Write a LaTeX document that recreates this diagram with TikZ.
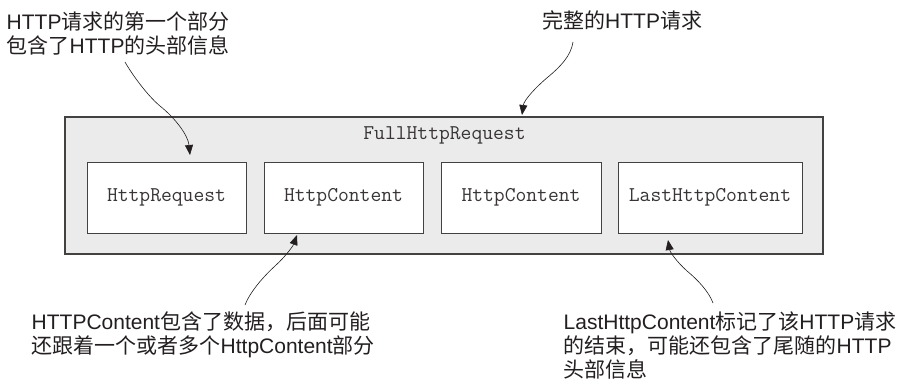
\documentclass[tikz,border=0pt]{standalone}
\usepackage{fontspec}
\setmainfont{Liberation Sans}
\newfontfamily\cjk{Noto Sans CJK SC}
\usetikzlibrary{arrows.meta}
\definecolor{ink}{HTML}{231F20}
\definecolor{panel}{HTML}{EBEBEB}
\begin{document}
\begin{tikzpicture}[x=1pt,y=-1pt,
  codefont/.style={font=\ttfamily\fontsize{21}{23}\selectfont, text=ink!90},
  outerbox/.style={draw=ink!85, fill=panel, line width=1.1pt, minimum width=758pt, minimum height=137pt, inner sep=0pt},
  partbox/.style={draw=ink!85, fill=white, line width=0.9pt, minimum height=71pt, inner sep=0pt, codefont},
  note/.style={anchor=north west, inner sep=0pt, align=left, text=ink, font=\fontsize{21}{24}\selectfont},
  callout/.style={draw=ink, line width=0.6pt, -{Triangle[length=10pt,width=8pt]}}]
\useasboundingbox (0,0) rectangle (904,382);
\node[outerbox] (full) at (444,185.5) {};
\node[codefont] (title) at (444.5,135) {FullHttpRequest};
\node[partbox, minimum width=159pt] (req) at (166.5,197.5) {HttpRequest};
\node[partbox, minimum width=159pt] (c1) at (343.5,197.5) {HttpContent};
\node[partbox, minimum width=160pt] (c2) at (521,197.5) {HttpContent};
\node[partbox, minimum width=184pt] (last) at (710,197.5) {LastHttpContent};
\node[note] (n1) at (6.5,12) {HTTP{\cjk 请求的第一个部分}\\{\cjk 包含了}HTTP{\cjk 的头部信息}};
\node[note] (n2) at (542,10) {{\cjk 完整的}HTTP{\cjk 请求}};
\node[note] (n3) at (31.5,312) {HTTPContent{\cjk 包含了数据，后面可能}\\{\cjk 还跟着一个或者多个}HttpContent{\cjk 部分}};
\node[note] (n4) at (563.5,312) {LastHttpContent{\cjk 标记了该}HTTP{\cjk 请求}\\{\cjk 的结束，可能还包含了尾随的}HTTP\\{\cjk 头部信息}};
\coordinate (s1) at (125,62);
\coordinate (t1) at (190,155);
\coordinate (s2) at (573,42);
\coordinate (t2) at (522,115);
\coordinate (s3) at (245,305);
\coordinate (t3) at (297,235);
\coordinate (s4) at (713,303);
\coordinate (t4) at (668,240);
\draw[callout] (s1) .. controls (133,76) and (148,96) .. (160,106) .. controls (175,118) and (188,135) .. (t1);
\draw[callout] (s2) .. controls (571,56) and (560,67) .. (548,77) .. controls (536,87) and (524,100) .. (t2);
\draw[callout] (s3) .. controls (250,292) and (263,277) .. (275,266) .. controls (286,256) and (293,246) .. (t3);
\draw[callout] (s4) .. controls (709,292) and (698,280) .. (687,271) .. controls (676,261) and (670,252) .. (t4);
\end{tikzpicture}
\end{document}
